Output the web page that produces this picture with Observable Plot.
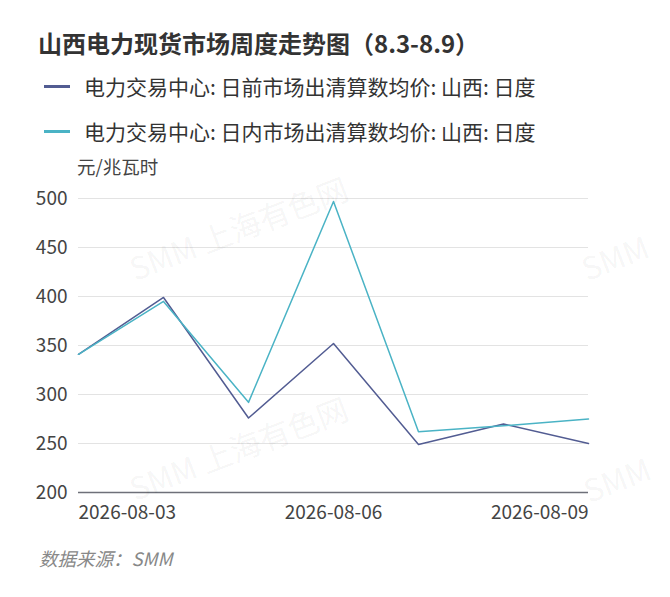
<!DOCTYPE html>
<html>
<head>
<meta charset="utf-8">
<script src="https://cdn.jsdelivr.net/npm/d3@7"></script>
<script src="https://cdn.jsdelivr.net/npm/@observablehq/plot@0.6"></script>
<style>
  html, body { margin: 0; padding: 0; background: #fff; }
  body { width: 670px; height: 597px; position: relative; overflow: hidden;
         font-family: "Noto Sans CJK SC", "Noto Sans", sans-serif; }
  .abs { position: absolute; white-space: nowrap; line-height: 1.2; }
  #title { left: 38px; top: 29px; font-size: 24px; font-weight: bold; color: #333; }
  .leg { left: 44px; font-size: 21px; color: #333; display: flex; align-items: center; }
  .leg .sw { width: 26px; height: 3px; margin-right: 14px; }
  #unit { left: 77px; top: 155px; font-size: 18.5px; color: #444; }
  #source { left: 39px; top: 547px; font-size: 18.5px; color: #888; font-style: italic; }
  #chart { position: absolute; left: 0; top: 180px; }
  .wm { position: absolute; font-size: 31px; line-height: 31px; height: 31px; color: rgba(0,0,0,0.055);
        transform: rotate(-21deg); transform-origin: left bottom; white-space: nowrap;
        font-family: "Noto Sans CJK SC", sans-serif; }
</style>
</head>
<body>
<div id="title" class="abs">山西电力现货市场周度走势图（8.3-8.9）</div>
<div id="leg1" class="abs leg" style="top:74px"><span class="sw" style="background:#525c92"></span><span id="n1"></span></div>
<div id="leg2" class="abs leg" style="top:119px"><span class="sw" style="background:#4ab3c5"></span><span id="n2"></span></div>
<div id="unit" class="abs">元/兆瓦时</div>
<div id="chart"></div>
<div id="source" class="abs">数据来源：SMM</div>
<div class="wm" style="left:136px; top:252px">SMM 上海有色网</div>
<div class="wm" style="left:136px; top:472px">SMM 上海有色网</div>
<div class="wm" style="left:588px; top:252px">SMM</div>
<div class="wm" style="left:590px; top:474px">SMM</div>
<script>
const dates = ["2026-08-03","2026-08-04","2026-08-05","2026-08-06","2026-08-07","2026-08-08","2026-08-09"];
const seriesNames = ["电力交易中心: 日前市场出清算数均价: 山西: 日度", "电力交易中心: 日内市场出清算数均价: 山西: 日度"];
const dayAhead = [341, 399, 276, 352, 249, 270, 250];
const intraday = [341, 395, 292, 497, 262, 268, 275];
const yTicks = [200, 250, 300, 350, 400, 450, 500];
const xTicks = ["2026-08-03", "2026-08-06", "2026-08-09"];
const colors = ["#525c92", "#4ab3c5"];

document.getElementById("n1").textContent = seriesNames[0];
document.getElementById("n2").textContent = seriesNames[1];

const data = [];
dates.forEach((d, i) => {
  data.push({date: d, value: dayAhead[i], series: seriesNames[0]});
  data.push({date: d, value: intraday[i], series: seriesNames[1]});
});

const fs = 19;
const chart = Plot.plot({
  width: 670,
  height: 350,
  marginLeft: 78,
  marginRight: 82,
  marginTop: 18,
  marginBottom: 38,
  style: {fontFamily: '"Noto Sans CJK SC", "Noto Sans", sans-serif', fontSize: fs + "px", color: "#444", background: "transparent"},
  x: {type: "point", domain: dates, padding: 0, axis: null},
  y: {domain: [200, 500], ticks: yTicks, label: null},
  color: {domain: seriesNames, range: colors},
  marks: [
    Plot.gridY(yTicks.filter(t => t > 200), {stroke: "#e3e3e3", strokeOpacity: 1, strokeWidth: 1.2}),
    Plot.axisY({ticks: yTicks, tickSize: 0, tickPadding: 11, label: null, fill: "#444", fontSize: fs}),
    Plot.ruleY([200], {stroke: "#6e7079", strokeWidth: 1.5}),
    Plot.axisX({ticks: [xTicks[0]], tickSize: 0, tickPadding: 13, textAnchor: "start", label: null, fill: "#444", fontSize: fs}),
    Plot.axisX({ticks: [xTicks[1]], tickSize: 0, tickPadding: 13, label: null, fill: "#444", fontSize: fs}),
    Plot.axisX({ticks: [xTicks[2]], tickSize: 0, tickPadding: 13, textAnchor: "end", label: null, fill: "#444", fontSize: fs}),
    Plot.line(data, {x: "date", y: "value", z: "series", stroke: "series", strokeWidth: 1.5})
  ]
});
document.getElementById("chart").appendChild(chart);
</script>
</body>
</html>
